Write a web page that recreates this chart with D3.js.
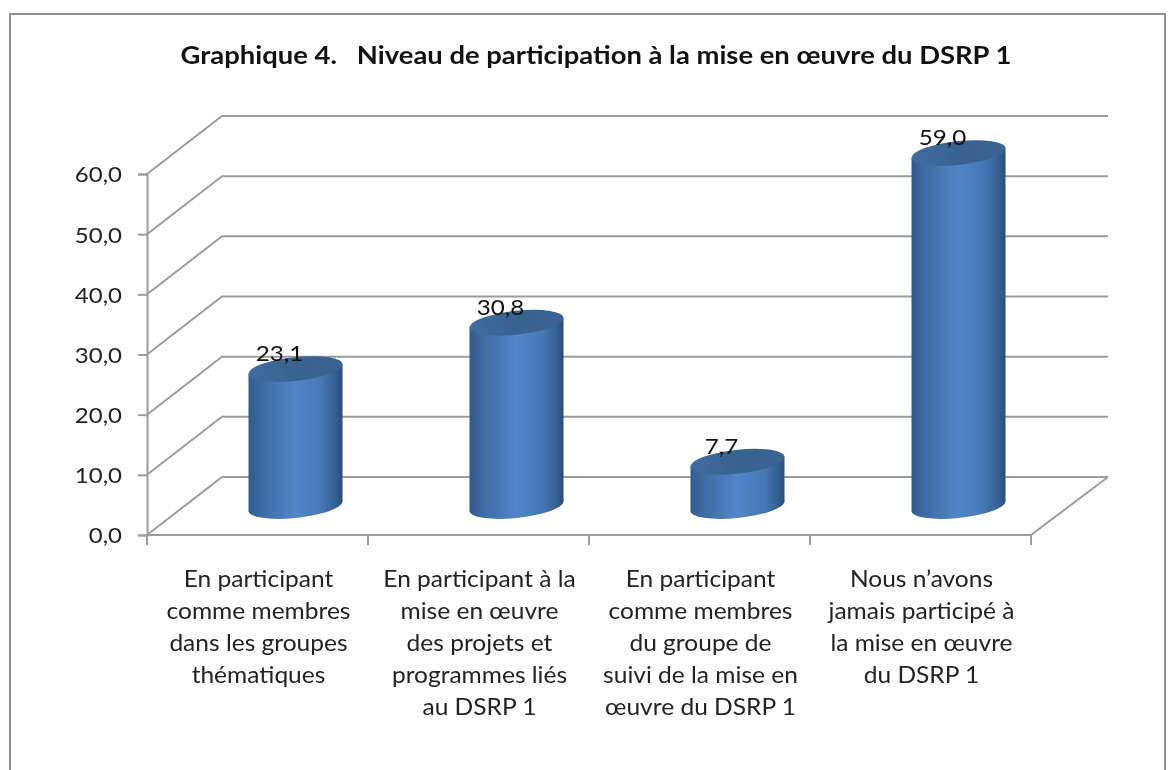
<!DOCTYPE html>
<html>
<head>
<meta charset="utf-8">
<script src="https://cdn.jsdelivr.net/npm/d3@7"></script>
<style>
  html, body { margin: 0; padding: 0; background: #fff; }
  svg { display: block; filter: blur(0.5px); }
  text { font-family: Lato, "Open Sans", sans-serif; fill: #222; }
</style>
</head>
<body>
<svg id="chart"></svg>
<script>
const categories = ["c1", "c2", "c3", "c4"];
const categoryLines = [
  ["En participant", "comme membres", "dans les groupes", "thématiques"],
  ["En participant à la", "mise en œuvre", "des projets et", "programmes liés", "au DSRP 1"],
  ["En participant", "comme membres", "du groupe de", "suivi de la mise en", "œuvre du DSRP 1"],
  ["Nous n’avons", "jamais participé à", "la mise en œuvre", "du DSRP 1"]
];
const values = [23.1, 30.8, 7.7, 59.0];
const valueLabels = ["23,1", "30,8", "7,7", "59,0"];
const yTicks = [0, 10, 20, 30, 40, 50, 60];
const titleText = "Graphique 4.   Niveau de participation à la mise en œuvre du DSRP 1";

const width = 1173, height = 770;
const depth = { x: 75, xRight: 77, y: -58 };
const gridColor = "#9c9c9c";

const svg = d3.select("#chart").attr("width", width).attr("height", height);

const y = d3.scaleLinear().domain([0, 60]).range([535, 174]);
const x = d3.scaleBand().domain(categories).range([147, 1031]);

// the original text is a bit wider than any installed font, so stretch it
const stretch = (sel, k) => sel.each(function() {
  d3.select(this)
    .attr("textLength", this.getComputedTextLength() * k)
    .attr("lengthAdjust", "spacingAndGlyphs");
});

// outer frame, open at the bottom like the cropped original
svg.append("path")
  .attr("d", d3.line()([[10, height], [10, 14], [1165, 14], [1165, height]]))
  .attr("fill", "none").attr("stroke", "#8f8f8f").attr("stroke-width", 2);

svg.append("text")
  .attr("x", 596).attr("y", 64)
  .attr("text-anchor", "middle")
  .attr("font-size", 25).attr("font-weight", 700)
  .style("white-space", "pre")
  .style("fill", "#111")
  .text(titleText)
  .call(stretch, 1.096);

// gradients for the cylinders
const defs = svg.append("defs");
const bodyGrad = defs.append("linearGradient").attr("id", "body");
[[0, "#2f5a8e"], [0.14, "#3d6ba3"], [0.5, "#5286c8"], [0.78, "#4677b4"], [0.93, "#345f92"], [1, "#2a4c76"]]
  .forEach(([o, c]) => bodyGrad.append("stop").attr("offset", o).attr("stop-color", c));
const topGrad = defs.append("linearGradient").attr("id", "top");
[[0, "#3f6ca0"], [0.5, "#38628f"], [1, "#3a6391"]]
  .forEach(([o, c]) => topGrad.append("stop").attr("offset", o).attr("stop-color", c));

// walls: oblique gridlines running back from the value axis
const grid = svg.append("g").attr("fill", "none").attr("stroke", gridColor).attr("stroke-width", 2);
grid.selectAll("path")
  .data(yTicks)
  .join("path")
  .attr("d", d => d3.line()([
    [x.range()[0], y(d)],
    [x.range()[0] + depth.x, y(d) + depth.y],
    [x.range()[1] + depth.xRight, y(d) + depth.y]
  ]));

// floor edges
grid.append("path").attr("d", d3.line()([
  [x.range()[0], y(0)],
  [x.range()[1], y(0)],
  [x.range()[1] + depth.xRight, y(0) + depth.y]
]));

// value axis
const yAxis = d3.axisLeft(y)
  .tickValues(yTicks)
  .tickFormat(d => d3.format(".1f")(d).replace(".", ","))
  .tickSize(9)
  .tickPadding(16);
const yG = svg.append("g").attr("transform", `translate(${x.range()[0]},0)`).call(yAxis);
yG.select(".domain").attr("stroke", gridColor).attr("stroke-width", 2);
yG.selectAll(".tick line").attr("stroke", gridColor).attr("stroke-width", 2);
yG.selectAll(".tick text")
  .attr("font-size", 22).attr("font-family", null).attr("dy", "0.36em")
  .call(stretch, 1.09);

// category ticks on the band edges
const edges = categories.map(c => x(c)).concat(x.range()[1]);
svg.append("g").selectAll("line")
  .data(edges)
  .join("line")
  .attr("x1", d => d).attr("x2", d => d)
  .attr("y1", y(0)).attr("y2", y(0) + 10)
  .attr("stroke", gridColor).attr("stroke-width", 2);

// category labels, one text per wrapped line
categories.forEach((c, i) => {
  svg.append("g").selectAll("text")
    .data(categoryLines[i])
    .join("text")
    .attr("text-anchor", "middle")
    .attr("font-size", 22.5)
    .attr("x", x(c) + x.bandwidth() / 2 + 1)
    .attr("y", (d, j) => 587 + j * 32)
    .text(d => d)
    .call(stretch, 1.09);
});

// cylinders sit halfway into the floor depth
const rx = 47, ry = 12, skew = -0.1;
const bars = svg.append("g").selectAll("g")
  .data(values)
  .join("g")
  .attr("transform", (d, i) => {
    const cx = x(categories[i]) + x.bandwidth() / 2 + depth.x / 2 + 0.5;
    return `translate(${cx},0)`;
  });
const yBase = y(0) + depth.y / 2;
const yTop = d => y(d) + depth.y / 2 + 2;
const skewAt = cy => `matrix(1,${skew},0,1,0,${cy})`;

bars.append("ellipse")
  .attr("transform", skewAt(yBase))
  .attr("rx", rx).attr("ry", ry)
  .attr("fill", "url(#body)");
bars.append("path")
  .attr("d", d => d3.line()([
    [-rx, yTop(d) - skew * rx],
    [rx, yTop(d) + skew * rx],
    [rx, yBase + skew * rx],
    [-rx, yBase - skew * rx]
  ]))
  .attr("fill", "url(#body)");
bars.append("ellipse")
  .attr("transform", d => skewAt(yTop(d)))
  .attr("rx", rx).attr("ry", ry)
  .attr("fill", "url(#top)");

// value labels, offset up and left of the cylinder top
bars.append("text")
  .attr("x", -16)
  .attr("y", d => yTop(d) - 8)
  .attr("text-anchor", "middle")
  .attr("font-size", 22)
  .style("fill", "#111")
  .text((d, i) => valueLabels[i])
  .call(stretch, 1.1);
</script>
</body>
</html>
